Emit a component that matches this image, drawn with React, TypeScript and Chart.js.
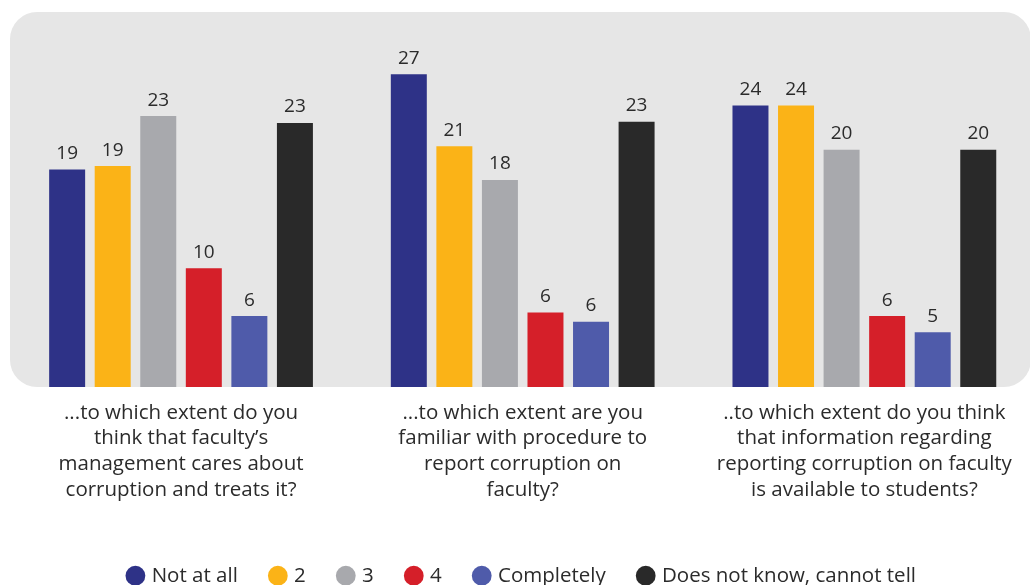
import React, { useEffect, useRef } from "react";
import { Chart, registerables } from "chart.js";

Chart.register(...registerables);

const categories: string[][] = [
  ["...to which extent do you", "think that faculty’s", "management cares about", "corruption and treats it?"],
  ["...to which extent are you", "familiar with procedure to", "report corruption on", "faculty?"],
  ["..to which extent do you think", "that information regarding", "reporting corruption on faculty", "is available to students?"],
];

const seriesNames = ["Not at all", "2", "3", "4", "Completely", "Does not know, cannot tell"];

const notAtAll = [18.7, 26.9, 24.2];
const two = [19.0, 20.7, 24.2];
const three = [23.3, 17.8, 20.4];
const four = [10.2, 6.4, 6.1];
const completely = [6.1, 5.6, 4.7];
const doesNotKnow = [22.7, 22.8, 20.4];

const seriesValues = [notAtAll, two, three, four, completely, doesNotKnow];
const seriesColors = ["#2E3287", "#FBB317", "#A8A9AD", "#D51F29", "#4F5BAA", "#292929"];

const FONT = "'Open Sans', sans-serif";
const TEXT = "#2b2b2b";

const panelPlugin = {
  id: "panel",
  beforeDraw(chart: any) {
    const ctx = chart.ctx;
    const x0 = 10, y0 = 12, x1 = 1031, y1 = 387, r = 27;
    ctx.save();
    ctx.fillStyle = "#E6E6E6";
    ctx.beginPath();
    ctx.moveTo(x0 + r, y0);
    ctx.lineTo(x1 - r, y0);
    ctx.arcTo(x1, y0, x1, y0 + r, r);
    ctx.lineTo(x1, y1 - r);
    ctx.arcTo(x1, y1, x1 - r, y1, r);
    ctx.lineTo(x0 + r, y1);
    ctx.arcTo(x0, y1, x0, y1 - r, r);
    ctx.lineTo(x0, y0 + r);
    ctx.arcTo(x0, y0, x0 + r, y0, r);
    ctx.closePath();
    ctx.fill();
    ctx.restore();
  },
};

const valueLabelPlugin = {
  id: "valueLabels",
  afterDatasetsDraw(chart: any) {
    const ctx = chart.ctx;
    ctx.save();
    ctx.font = `19px ${FONT}`;
    ctx.fillStyle = TEXT;
    ctx.textAlign = "center";
    ctx.textBaseline = "alphabetic";
    chart.data.datasets.forEach((ds: any, i: number) => {
      const meta = chart.getDatasetMeta(i);
      meta.data.forEach((bar: any, j: number) => {
        const v = ds.data[j] as number;
        ctx.fillText(String(Math.round(v)), bar.x, bar.y - 10.5);
      });
    });
    ctx.restore();
  },
};

export default function App() {
  const ref = useRef<HTMLCanvasElement | null>(null);

  useEffect(() => {
    if (!ref.current) return;
    const chart = new Chart(ref.current, {
      type: "bar",
      data: {
        labels: categories,
        datasets: seriesNames.map((name, i) => ({
          label: name,
          data: seriesValues[i],
          backgroundColor: seriesColors[i],
          borderColor: seriesColors[i],
          borderWidth: 0,
          categoryPercentage: 0.8,
          barPercentage: 0.79,
        })),
      },
      options: {
        responsive: false,
        animation: false,
        devicePixelRatio: 1,
        layout: { padding: { left: 10.2, right: 4.8, top: 38.1, bottom: 0 } },
        scales: {
          x: {
            grid: { display: false, drawTicks: false },
            border: { display: false },
            ticks: {
              padding: 13,
              color: TEXT,
              font: { family: FONT, size: 20.5, lineHeight: 1.254 },
              maxRotation: 0,
              autoSkip: false,
            },
            afterFit: (scale: any) => {
              scale.height = 144.5;
            },
          },
          y: {
            display: false,
            min: 0,
            max: 30,
          },
        },
        plugins: {
          legend: {
            position: "bottom",
            labels: {
              usePointStyle: true,
              pointStyle: "circle",
              boxWidth: 12,
              boxHeight: 14,
              padding: 34,
              color: TEXT,
              font: { family: FONT, size: 20.5 },
            },
          },
          tooltip: { enabled: false },
        },
      },
      plugins: [panelPlugin, valueLabelPlugin],
    });
    return () => chart.destroy();
  }, []);

  return (
    <div style={{ position: "fixed", left: 0, top: 0, width: 1030, height: 585, overflow: "hidden", background: "#fff" }}>
      <canvas ref={ref} width={1040} height={596} style={{ width: 1040, height: 596, display: "block" }} />
    </div>
  );
}
